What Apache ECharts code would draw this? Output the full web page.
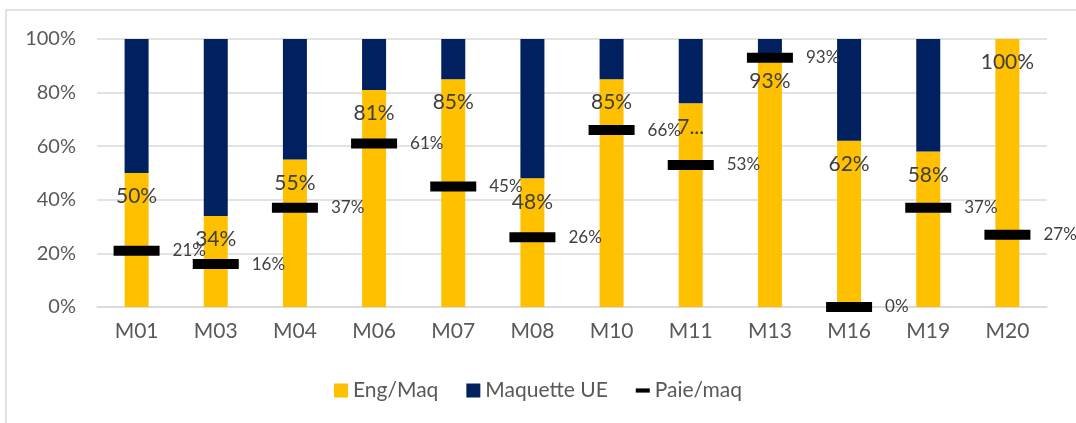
<!DOCTYPE html>
<html>
<head>
<meta charset="utf-8">
<script src="https://cdn.jsdelivr.net/npm/echarts@6/dist/echarts.min.js"></script>
<style>
  html, body { margin: 0; padding: 0; background: #fff; }
  #main { width: 1076px; height: 423px; }
</style>
</head>
<body>
<div id="main"></div>
<script>
// valeurs (en %)
const categories = ['M01', 'M03', 'M04', 'M06', 'M07', 'M08', 'M10', 'M11', 'M13', 'M16', 'M19', 'M20'];
const engMaq = [50, 34, 55, 81, 85, 48, 85, 76, 93, 62, 58, 100];
const maquetteUE = engMaq.map(v => 100 - v);
const paieMaq = [21, 16, 37, 61, 45, 26, 66, 53, 93, 0, 37, 27];
const yTicks = { min: 0, max: 100, interval: 20 };

let myChart = echarts.init(document.getElementById('main'));

const font = 'Lato, "Open Sans", sans-serif';

option = {
    backgroundColor: '#fff',
    textStyle: { fontFamily: font },
    animation: false,
    graphic: [{
        type: 'rect',
        shape: { x: 6, y: 10, width: 1100, height: 450 },
        style: { fill: 'none', stroke: '#d9d9d9', lineWidth: 1.5 },
        silent: true
    }],
    legend: {
        bottom: 17,
        left: 'center',
        itemWidth: 14,
        itemHeight: 14,
        itemGap: 28,
        textStyle: { color: '#595959', fontSize: 21, fontFamily: font },
        data: [
            { name: 'Eng/Maq', icon: 'rect' },
            { name: 'Maquette UE', icon: 'rect' },
            { name: 'Paie/maq', icon: 'path://M0,0 L10,0 L10,3 L0,3 Z' }
        ]
    },
    grid: {
        left: 97,
        right: 29,
        top: 39,
        bottom: 116
    },
    xAxis: {
        type: 'category',
        data: categories,
        axisTick: { show: false },
        axisLine: { lineStyle: { color: '#d9d9d9', width: 1.5 } },
        axisLabel: { color: '#595959', fontSize: 21, margin: 14, fontFamily: font }
    },
    yAxis: {
        type: 'value',
        min: yTicks.min,
        max: yTicks.max,
        interval: yTicks.interval,
        axisLine: { show: false },
        axisTick: { show: false },
        splitLine: { lineStyle: { color: '#d9d9d9', width: 1.5 } },
        axisLabel: { color: '#595959', fontSize: 20, margin: 21, formatter: '{value}%', fontFamily: font }
    },
    series: [
        {
            name: 'Eng/Maq',
            type: 'bar',
            stack: 'total',
            barWidth: 24,
            itemStyle: { color: '#FFC000' },
            label: {
                show: true,
                position: 'insideTop',
                distance: 13,
                color: '#404040',
                fontSize: 21,
                fontFamily: font,
                formatter: p => (p.name === 'M11' ? '7...' : p.value + '%')
            },
            data: engMaq
        },
        {
            name: 'Maquette UE',
            type: 'bar',
            stack: 'total',
            barWidth: 24,
            itemStyle: { color: '#002060' },
            data: maquetteUE
        },
        {
            name: 'Paie/maq',
            type: 'scatter',
            symbol: 'rect',
            symbolSize: [46, 10],
            itemStyle: { color: '#000', opacity: 1 },
            z: 5,
            label: {
                show: true,
                position: 'right',
                distance: 13,
                color: '#404040',
                fontSize: 17,
                fontFamily: font,
                formatter: '{c}%'
            },
            data: paieMaq
        }
    ]
};

myChart.setOption(option);
</script>
</body>
</html>
